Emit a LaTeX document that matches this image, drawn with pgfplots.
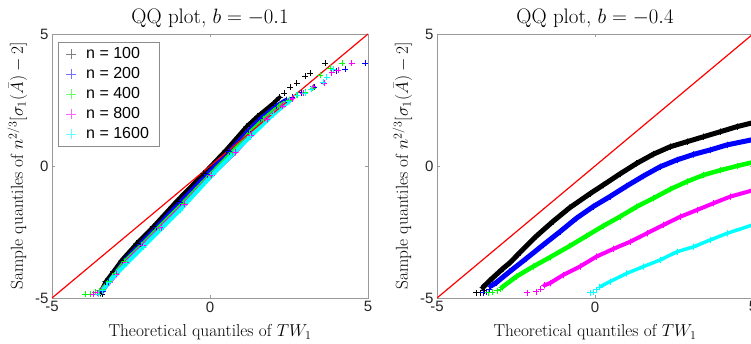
\documentclass[border=0pt]{standalone}
\usepackage{fontspec}
\usepackage{pgfplots}
\pgfplotsset{compat=1.18}
\newfontfamily\arial{Liberation Sans}
\definecolor{mgreen}{rgb}{0,1,0}
\definecolor{mblue}{rgb}{0,0,1}
\definecolor{mmag}{rgb}{1,0,1}
\definecolor{mcyan}{rgb}{0,1,1}
\pgfplotsset{
 every axis title shift=0pt,
 qq/.style={
   scale only axis, width=316pt, height=264pt,
   xmin=-5,xmax=5,ymin=-5,ymax=5,
   xtick={-5,0,5}, ytick={-5,0,5},
   xticklabels={-5,0,5}, yticklabels={-5,0,5},
   tick align=inside, major tick length=3pt,
   axis line style={black!40}, tick style={black!40, line width=0.5pt},
   ticklabel style={font=\arial\fontsize{15}{15}\selectfont, text=black!85},
   title style={at={(axis description cs:0.5,1.0379)}, anchor=base, font=\fontsize{21}{21}\selectfont},
   xlabel style={at={(axis description cs:0.5,-0.1477)}, anchor=base, font=\fontsize{17.3}{17.3}\selectfont},
   ylabel style={at={(axis description cs:-0.0918,0.5)}, anchor=base, font=\fontsize{17.3}{17.3}\selectfont},
   xlabel={Theoretical quantiles of $TW_1$},
   ylabel={Sample quantiles of $n^{2/3}[\sigma_1(\bar{A})-2]$},
 },
 band/.style={line width=#1, line join=round, line cap=round, mark=+, mark size=3pt, mark options={line width=0.5pt, solid}},
 band/.default=4.5pt,
 tail/.style={only marks, mark=+, mark size=3pt, line width=0.5pt},
}
\begin{document}
\begin{tikzpicture}
\begin{axis}[qq, at={(0pt,0pt)}, anchor=south west, title={QQ plot, $b=-0.1$},
  legend style={at={(axis description cs:0.019,0.970)}, anchor=north west, draw=black!45, fill=white,
    font=\arial\fontsize{16}{16}\selectfont, row sep=0pt, column sep=8pt, inner xsep=8pt, inner ysep=2pt,
    nodes={inner sep=2pt, text height=12pt, text depth=4pt}},
  legend cell align=left]
\addlegendimage{only marks, mark=+, mark size=5pt, black!50, line width=0.5pt}
\addlegendentry{n = 100}
\addlegendimage{only marks, mark=+, mark size=5pt, mblue!55, line width=0.5pt}
\addlegendentry{n = 200}
\addlegendimage{only marks, mark=+, mark size=5pt, mgreen!60, line width=0.5pt}
\addlegendentry{n = 400}
\addlegendimage{only marks, mark=+, mark size=5pt, mmag!60, line width=0.5pt}
\addlegendentry{n = 800}
\addlegendimage{only marks, mark=+, mark size=5pt, mcyan!60, line width=0.5pt}
\addlegendentry{n = 1600}
% b = -0.1
\addplot[black, band=4pt, forget plot] coordinates {(-3.48,-4.82) (-3.3,-4.38) (-3.06,-4.0) (-2.79,-3.56) (-2.32,-2.93) (-1.8,-2.3) (-1.05,-1.32) (-0.2,-0.28) (0.5,0.6) (1.16,1.5) (1.5,1.88) (2.0,2.37) (2.2,2.6)};
\addplot[black, tail, forget plot] coordinates {(-3.42,-4.85) (2.35,2.75) (2.53,3.0) (2.74,3.13) (3.01,3.41) (3.16,3.51) (3.64,3.89)};
\addplot[mblue, band=4pt, forget plot] coordinates {(-3.4,-4.75) (-3.22,-4.4) (-3.0,-4.05) (-2.72,-3.6) (-2.22,-2.97) (-1.7,-2.32) (-0.95,-1.37) (-0.1,-0.32) (0.6,0.55) (1.2,1.33) (1.6,1.8) (2.1,2.28) (2.4,2.5)};
\addplot[mblue, tail, forget plot] coordinates {(-3.55,-4.85) (2.6,2.62) (2.9,2.78) (3.3,3.0) (3.69,3.38) (4.01,3.61) (4.27,3.66) (4.90,3.89)};
\addplot[mgreen, band=4pt, forget plot] coordinates {(-3.4,-4.65) (-3.2,-4.38) (-3.0,-4.08) (-2.7,-3.62) (-2.16,-3.0) (-1.62,-2.33) (-0.85,-1.4) (0.0,-0.34) (0.7,0.52) (1.25,1.25) (1.7,1.78) (2.2,2.28) (2.5,2.5)};
\addplot[mgreen, tail, forget plot] coordinates {(-3.96,-4.85) (-3.80,-4.85) (-3.64,-4.78) (-3.52,-4.72) (2.75,2.68) (3.0,2.8) (3.25,2.95) (3.48,3.45) (3.80,3.70) (4.17,3.89)};
\addplot[mmag, band=4pt, forget plot] coordinates {(-3.42,-4.7) (-3.18,-4.4) (-2.97,-4.1) (-2.66,-3.65) (-2.12,-3.02) (-1.55,-2.33) (-0.8,-1.43) (0.05,-0.34) (0.8,0.52) (1.3,1.18) (1.8,1.78) (2.3,2.28) (2.6,2.55)};
\addplot[mmag, tail, forget plot] coordinates {(-3.7,-4.85) (-3.58,-4.8) (2.95,2.75) (3.27,3.01) (3.6,3.15) (3.85,3.54) (4.06,3.64) (4.48,3.89)};
\addplot[mcyan, band=4pt, forget plot] coordinates {(-3.4,-4.72) (-3.2,-4.4) (-3.0,-4.12) (-2.64,-3.69) (-2.11,-3.06) (-1.48,-2.3) (-0.95,-1.67) (0.1,-0.3) (1.27,1.11) (2.0,1.95) (2.5,2.45)};
\addplot[mcyan, tail, forget plot] coordinates {(-3.55,-4.85) (2.74,2.68) (3.0,2.75) (3.2,2.9) (3.59,3.19) (3.69,3.38) (3.90,3.66)};
\addplot[red, line width=1.2pt, forget plot] coordinates {(-5,-5) (5,5)};
\end{axis}
\begin{axis}[qq, at={(385pt,0pt)}, anchor=south west, title={QQ plot, $b=-0.4$}]
\addplot[black, band=5pt] coordinates {(-3.55,-4.6) (-3.34,-4.35) (-2.91,-3.88) (-2.68,-3.65) (-2.38,-3.28) (-1.86,-2.66) (-1.33,-2.1) (-0.8,-1.58) (-0.16,-1.05) (0.26,-0.72) (0.79,-0.3) (1.32,0.1) (1.85,0.45) (2.38,0.73) (2.91,0.92) (3.44,1.11) (3.97,1.3) (4.49,1.49) (5.2,1.7)};
\addplot[black, tail] coordinates {(-3.76,-4.80) (-3.62,-4.80) (-3.5,-4.72)};
\addplot[mblue, band=5pt] coordinates {(-3.3,-4.55) (-3.13,-4.42) (-2.70,-4.0) (-2.17,-3.5) (-1.64,-2.99) (-1.11,-2.49) (-0.59,-1.98) (-0.06,-1.54) (0.47,-1.16) (1.0,-0.76) (1.53,-0.38) (2.06,-0.03) (2.59,0.23) (3.12,0.44) (3.65,0.61) (4.18,0.8) (5.2,1.05)};
\addplot[mblue, tail] coordinates {(-3.55,-4.80) (-3.45,-4.78) (-3.35,-4.65)};
\addplot[mgreen, band=4.5pt] coordinates {(-2.95,-4.6) (-2.49,-4.19) (-1.96,-3.81) (-1.43,-3.46) (-0.8,-3.03) (-0.27,-2.65) (0.26,-2.27) (0.79,-1.92) (1.32,-1.54) (1.85,-1.22) (2.38,-0.88) (2.91,-0.59) (3.44,-0.34) (3.97,-0.16) (4.49,0.0) (5.2,0.2)};
\addplot[mgreen, tail] coordinates {(-3.39,-4.80) (-3.25,-4.78) (-3.1,-4.72) (-3.0,-4.65)};
\addplot[mmag, band=4pt] coordinates {(-1.6,-4.52) (-1.43,-4.44) (-1.01,-4.13) (-0.48,-3.81) (0.05,-3.43) (0.58,-3.14) (1.11,-2.87) (1.64,-2.55) (2.17,-2.23) (2.7,-1.92) (3.22,-1.67) (3.75,-1.41) (4.28,-1.16) (5.2,-0.85)};
\addplot[mmag, tail] coordinates {(-2.15,-4.80) (-1.86,-4.76) (-1.72,-4.66)};
\addplot[mcyan, band=3.5pt] coordinates {(0.15,-4.58) (0.47,-4.38) (1.0,-4.07) (1.53,-3.81) (2.06,-3.56) (2.59,-3.25) (3.12,-3.06) (3.65,-2.8) (4.18,-2.55) (5.2,-2.15)};
\addplot[mcyan, tail] coordinates {(-0.16,-4.80) (-0.05,-4.78) (0.05,-4.68)};
\addplot[red, line width=1.2pt] coordinates {(-5,-5) (5,5)};
\end{axis}
\pgfresetboundingbox
\path[use as bounding box] (-52pt,-45pt) rectangle (699pt,298pt);
\end{tikzpicture}
\end{document}
